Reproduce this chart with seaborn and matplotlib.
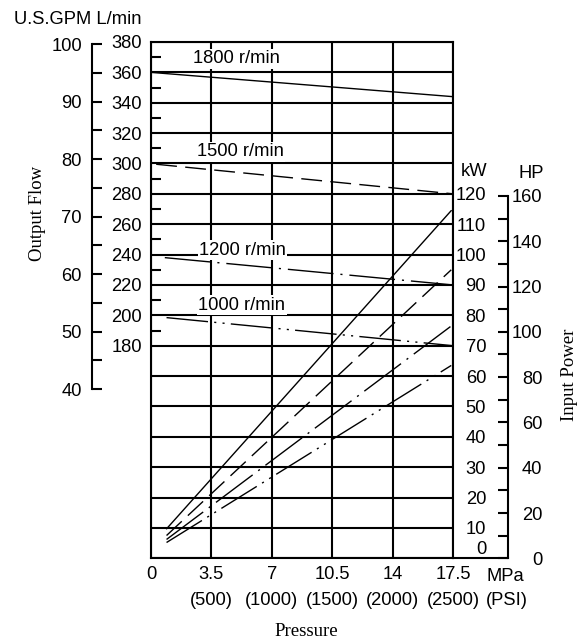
import matplotlib
matplotlib.use("Agg")
import matplotlib.pyplot as plt
import seaborn as sns
import pandas as pd
import numpy as np

# ---------------- data ----------------
speeds = ["1800 r/min", "1500 r/min", "1200 r/min", "1000 r/min"]
# output flow lines (L/min vs MPa)
flow_start_mpa = [0.0, 0.3, 0.8, 0.9]
flow_end_mpa = [17.5, 17.5, 17.5, 17.5]
flow_start_lpm = [360, 299.5, 238, 198.5]
flow_end_lpm = [344, 280, 220, 180]
# input power lines (kW vs MPa)
power_start_mpa = [0.9, 0.9, 0.9, 0.9]
power_end_mpa = [17.4, 17.4, 17.4, 17.4]
power_start_kw = [9.7, 7.5, 6.2, 5.2]
power_end_kw = [114.5, 95, 76.5, 63.5]

mpa_ticks = [0, 3.5, 7, 10.5, 14, 17.5]
psi_ticks = ["", "(500)", "(1000)", "(1500)", "(2000)", "(2500)"]
lpm_grid = list(range(40, 381, 20))
lpm_labels_from = 180
kw_ticks = list(range(0, 121, 10))
hp_ticks = list(range(0, 161, 20))
gpm_ticks = list(range(40, 101, 10))

flow_df = pd.DataFrame({
    "pressure": flow_start_mpa + flow_end_mpa,
    "flow": flow_start_lpm + flow_end_lpm,
    "speed": speeds + speeds,
})
power_df = pd.DataFrame({
    "pressure": power_start_mpa + power_end_mpa,
    "power": power_start_kw + power_end_kw,
    "speed": speeds + speeds,
})

# ---------------- style ----------------
sns.set_theme(style="white")
plt.rcParams["font.family"] = ["Liberation Sans", "DejaVu Sans"]
plt.rcParams["axes.edgecolor"] = "black"
plt.rcParams["xtick.color"] = "black"
plt.rcParams["ytick.color"] = "black"
plt.rcParams["text.color"] = "black"
SERIF = ["Liberation Serif", "DejaVu Serif"]
FS = 13.2
FSS = 13.5
LW = 1.5

dash_map = {
    "1800 r/min": "",
    "1500 r/min": (15, 6),
    "1200 r/min": (33, 5, 1.5, 5),
    "1000 r/min": (30, 4.5, 1.5, 4.5, 1.5, 4.5),
}

W, H = 577, 641
fig = plt.figure(figsize=(W / 100, H / 100), dpi=100)
ax = fig.add_axes([151 / W, 1 - 558.3 / H, (453 - 151) / W, (558.3 - 42) / H])

sns.lineplot(data=flow_df, x="pressure", y="flow", style="speed", dashes=dash_map,
             color="black", linewidth=1.0, estimator=None, legend=False, ax=ax, zorder=4)

ax.set_xlim(0, 17.5)
ax.set_ylim(40, 380)
ax.set_xlabel("")
ax.set_ylabel("")
ax.set_xticks(mpa_ticks)
ax.set_xticklabels([("%g" % m) + ("\n" + p if p else "") for m, p in zip(mpa_ticks, psi_ticks)])
ax.set_yticks(lpm_grid)
ax.set_yticklabels([str(v) if v >= lpm_labels_from else "" for v in lpm_grid])
ax.set_yticks(list(range(190, 371, 20)), minor=True)
ax.tick_params(axis="y", which="minor", left=True, direction="in", length=7.2, width=LW)
ax.tick_params(axis="y", which="major", length=0, pad=6.7, labelsize=FS)
ax.tick_params(axis="x", which="major", length=0, pad=5.5, labelsize=FS)
for lab in ax.get_xticklabels():
    lab.set_linespacing(1.68)
ax.grid(True, which="major", color="black", linewidth=LW)
ax.set_axisbelow(True)
for s in ax.spines.values():
    s.set_linewidth(LW)
    s.set_color("black")

# kW twin axis carrying the power lines
axk = ax.twinx()
sns.lineplot(data=power_df, x="pressure", y="power", style="speed", dashes=dash_map,
             color="black", linewidth=1.0, estimator=None, legend=False, ax=axk)
axk.set_xlim(0, 17.5)
axk.set_ylim(0, 170)
axk.set_ylabel("")
axk.grid(False)
axk.set_yticks(kw_ticks)
axk.tick_params(axis="y", right=True, length=0, pad=23.8, labelsize=FS)
for s in axk.spines.values():
    s.set_visible(False)
labs = axk.get_yticklabels()
for lab in labs:
    lab.set_horizontalalignment("right")
labs[0].set_verticalalignment("bottom")

# HP axis
hp = axk.secondary_yaxis(1.183, functions=(lambda k: k / 0.7457, lambda h: h * 0.7457))
hp.set_yticks(hp_ticks)
hp.set_yticks(list(range(10, 151, 20)), minor=True)
hp.tick_params(axis="y", which="both", right=True, direction="in", length=7.2, width=LW,
               pad=24.5, labelsize=FS)
hp.spines["right"].set_bounds(0, 160)
hp.spines["right"].set_linewidth(LW)
hp.spines["right"].set_color("black")
for lab in hp.get_yticklabels():
    lab.set_horizontalalignment("right")

# GPM axis
gpm = ax.secondary_yaxis(-0.1954, functions=(lambda l: l / 3.785, lambda g: g * 3.785))
gpm.set_yticks(gpm_ticks)
gpm.set_yticks(list(range(45, 96, 10)), minor=True)
gpm.tick_params(axis="y", which="both", left=True, direction="in", length=7.2, width=LW,
                pad=7.2, labelsize=FS)
gpm.spines["left"].set_bounds(40, 100)
gpm.spines["left"].set_linewidth(LW)
gpm.spines["left"].set_color("black")

# bottom spine extension to HP axis
ax.plot([1, 1.183], [0, 0], transform=ax.transAxes, color="black", lw=LW,
        clip_on=False, solid_capstyle="projecting")

# speed labels
bb = dict(facecolor="white", edgecolor="none", pad=1.0)
ax.text(4.93, 369.1, speeds[0], ha="center", va="center", fontsize=FS, bbox=bb, zorder=3)
ax.text(5.16, 307.8, speeds[1], ha="center", va="center", fontsize=FS, bbox=bb, zorder=3)
ax.text(5.30, 242.9, speeds[2], ha="center", va="center", fontsize=FS, bbox=bb, zorder=3)
ax.text(5.25, 206.7, speeds[3], ha="center", va="center", fontsize=FS, bbox=bb, zorder=3)

def ftext(x, y, s, **kw):
    fig.text(x / W, 1 - y / H, s, **kw)

ftext(141, 19.3, "U.S.GPM L/min", ha="right", va="center", fontsize=FS)
ftext(474, 171, "kW", ha="center", va="center", fontsize=FS)
ftext(531, 174, "HP", ha="center", va="center", fontsize=FS)
ftext(505, 576.7, "MPa", ha="center", va="center", fontsize=FS)
ftext(506.5, 600.5, "(PSI)", ha="center", va="center", fontsize=FS)
ftext(38, 213, "Output Flow", ha="center", va="center", rotation=90, fontsize=FSS, family=SERIF)
ftext(569, 375, "Input Power", ha="center", va="center", rotation=90, fontsize=FSS, family=SERIF)
ftext(306.7, 631.7, "Pressure", ha="center", va="center", fontsize=FSS, family=SERIF)

fig.savefig("out.png", dpi=100)
